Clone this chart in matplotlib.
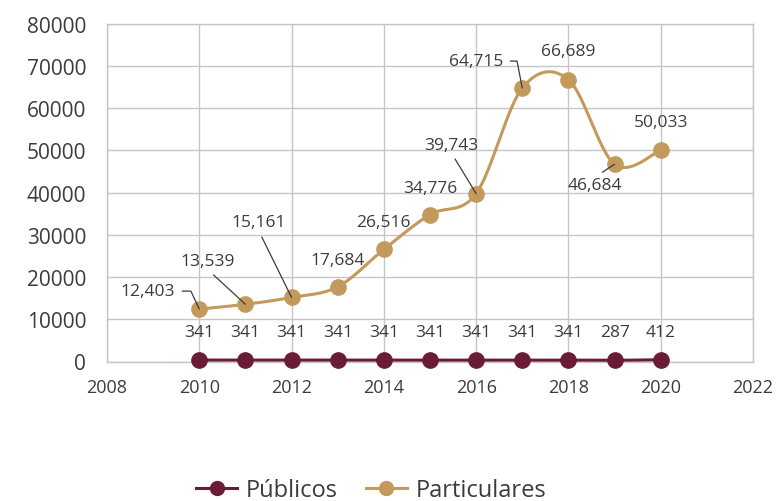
import numpy as np
import matplotlib
matplotlib.use("Agg")
from matplotlib import pyplot as plt
from matplotlib.lines import Line2D

plt.rcParams['font.family'] = ['Open Sans', 'DejaVu Sans']

# Yearly totals
years = [2010, 2011, 2012, 2013, 2014, 2015, 2016, 2017, 2018, 2019, 2020]
publicos = [341, 341, 341, 341, 341, 341, 341, 341, 341, 287, 412]
particulares = [12403, 13539, 15161, 17684, 26516, 34776, 39743, 64715, 66689, 46684, 50033]

# Where each "Particulares" label sits relative to its point (pixels)
label_offsets = [(-24, 18), (-38, 43), (-33, 75), (0, 27), (0, 27), (0, 27),
                 (-25, 49), (-19, 27), (0, 29), (-20, -21), (0, 28)]

TAN = '#C49A5C'
MAROON = '#6B1C35'
GRID = '#C6C6C6'
TEXT = '#3C3C3C'


def smooth(xs, ys, n=40):
    # Bezier smoothing through every point (same idea as a spreadsheet "smoothed line")
    xs = np.asarray(xs, float)
    ys = np.asarray(ys, float)
    px = np.concatenate([[xs[0]], xs, [xs[-1]]])
    py = np.concatenate([[ys[0]], ys, [ys[-1]]])
    out_x, out_y = [], []
    t = np.linspace(0, 1, n)
    for i in range(1, len(px) - 2):
        p0 = np.array([px[i], py[i]])
        p3 = np.array([px[i + 1], py[i + 1]])
        p1 = p0 + (np.array([px[i + 1], py[i + 1]]) - np.array([px[i - 1], py[i - 1]])) / 6
        p2 = p3 - (np.array([px[i + 2], py[i + 2]]) - p0) / 6
        pts = ((1 - t)[:, None] ** 3 * p0 + 3 * ((1 - t) ** 2 * t)[:, None] * p1
               + 3 * ((1 - t) * t ** 2)[:, None] * p2 + (t ** 3)[:, None] * p3)
        out_x.extend(pts[:, 0])
        out_y.extend(pts[:, 1])
    return np.array(out_x), np.array(out_y)


fig = plt.figure(figsize=(7.76, 5.02), dpi=100)
ax = fig.add_axes([107 / 776, 1 - 362.5 / 502, (753 - 107) / 776, (362.5 - 24.5) / 502])

# smoothed lines + markers
sx, sy = smooth(years, particulares)
ax.plot(sx, sy, color=TAN, lw=2.2, zorder=3, solid_capstyle='round')
ax.plot(years, particulares, 'o', color=TAN, ms=11, zorder=4)
sx, sy = smooth(years, publicos)
ax.plot(sx, sy, color=MAROON, lw=2.2, zorder=3, solid_capstyle='round', clip_on=False)
ax.plot(years, publicos, 'o', color=MAROON, ms=11, zorder=4, clip_on=False)

# value labels for Particulares, some with leader lines
leaders = {
    0: dict(connectionstyle='angle,angleA=0,angleB=115', relpos=(1, 0.5), ha='right'),
    1: dict(connectionstyle='arc3', relpos=(0.5, 0), ha='center'),
    2: dict(connectionstyle='arc3', relpos=(0.5, 0), ha='center'),
    6: dict(connectionstyle='arc3', relpos=(0.5, 0), ha='center'),
    7: dict(connectionstyle='angle,angleA=0,angleB=101', relpos=(1, 0.5), ha='right'),
    9: dict(connectionstyle='arc3', relpos=(0.5, 1), ha='center'),
}
for i, (yr, val) in enumerate(zip(years, particulares)):
    txt = f"{val:,}"
    if i in leaders:
        opts = leaders[i]
        ax.annotate(txt, xy=(yr, val), xytext=label_offsets[i], textcoords='offset pixels',
                    ha=opts['ha'], va='center', fontsize=12.5, color=TEXT, zorder=6,
                    arrowprops=dict(arrowstyle='-', color=TEXT, lw=0.9, shrinkA=3, shrinkB=0,
                                    connectionstyle=opts['connectionstyle'],
                                    relpos=opts['relpos']))
    else:
        ax.annotate(txt, xy=(yr, val), xytext=label_offsets[i], textcoords='offset pixels',
                    ha='center', va='center', fontsize=12.5, color=TEXT, zorder=6)

# value labels for Públicos
for yr, val in zip(years, publicos):
    ax.annotate(f"{val:,}", xy=(yr, val), xytext=(0, 28), textcoords='offset pixels',
                ha='center', va='center', fontsize=12.5, color=TEXT, zorder=6)

ax.set_xlim(2008, 2022)
ax.set_ylim(0, 80000)
ax.set_xticks(range(2008, 2023, 2))
ax.set_yticks(range(0, 80001, 10000))
ax.tick_params(axis='y', length=0, pad=15, labelsize=15, labelcolor=TEXT)
ax.tick_params(axis='x', length=0, pad=12, labelsize=13, labelcolor=TEXT)
ax.grid(True, color=GRID, lw=1)
ax.set_axisbelow(True)
for s in ax.spines.values():
    s.set_color(GRID)
    s.set_linewidth(1)

handles = [Line2D([], [], color=MAROON, lw=2.2, marker='o', ms=10),
           Line2D([], [], color=TAN, lw=2.2, marker='o', ms=10)]
fig.legend(handles, ['Públicos', 'Particulares'], loc='center', ncol=2,
           bbox_to_anchor=(371 / 776, 1 - 491 / 502), frameon=False, fontsize=17,
           handlelength=1.75, handletextpad=0.35, columnspacing=1.2, labelcolor=TEXT)

fig.savefig('out.png', dpi=100)
